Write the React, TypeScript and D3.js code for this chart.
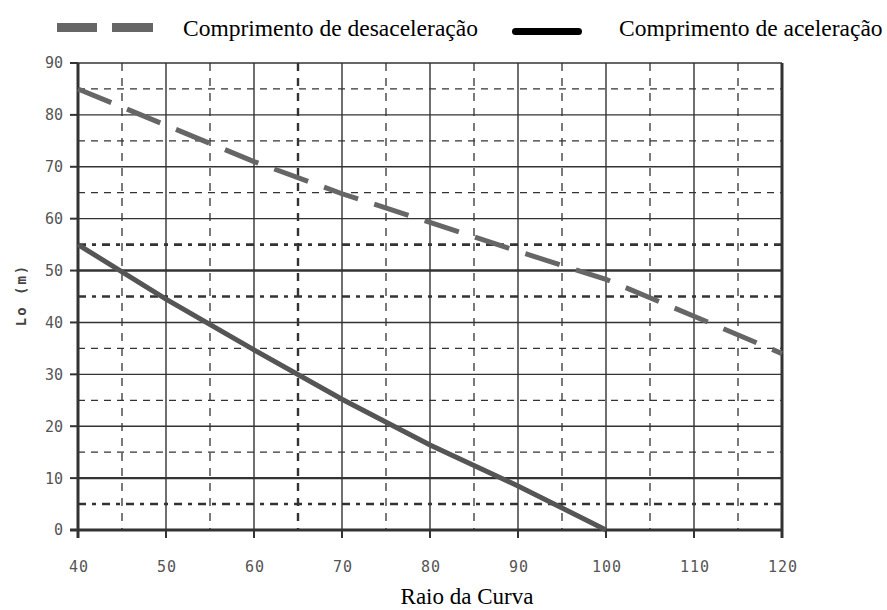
import * as d3 from "d3";

const raio = [40, 50, 60, 70, 80, 90, 100, 110, 120];
const desaceleracao = [85, 78, 71, 64.8, 59.3, 53.7, 48.3, 41.2, 34];
const raioAcel = [40, 50, 60, 70, 80, 90, 100];
const aceleracao = [55, 44.5, 34.7, 25.2, 16.4, 8.5, 0];

const xTicks = [40, 50, 60, 70, 80, 90, 100, 110, 120];
const yTicks = [0, 10, 20, 30, 40, 50, 60, 70, 80, 90];
const xMinor = [45, 55, 65, 75, 85, 95, 105, 115];
const yMinor = [5, 15, 25, 35, 45, 55, 65, 75, 85];
const boldYMinor = [5, 45, 55];
const boldXMinor = [65];
const boldYMajor = [10, 50];

const W = 887;
const H = 610;

export default function App() {
  const x = d3.scaleLinear().domain([40, 120]).range([78, 782]);
  const y = d3.scaleLinear().domain([0, 90]).range([530, 63]);

  const decel = raio.map((r, i) => [r, desaceleracao[i]] as [number, number]);
  const acel = raioAcel.map((r, i) => [r, aceleracao[i]] as [number, number]);
  const line = d3
    .line<[number, number]>()
    .x((d) => x(d[0]))
    .y((d) => y(d[1]));

  const grid = "#333";
  const tickFont = "'DejaVu Sans Mono', monospace";
  const serif = "'Liberation Serif', 'Times New Roman', serif";

  return (
    <svg width={W} height={H} style={{ position: "absolute", left: 0, top: 0 }}>
      <rect width={W} height={H} fill="#fff" />

      {/* legend */}
      <g>
        <rect x={57} y={23} width={40} height={9} fill="#666" />
        <rect x={112} y={23} width={41} height={9} fill="#666" />
        <text x={183} y={36} fontFamily={serif} fontSize={23.5} fill="#000">
          Comprimento de desaceleração
        </text>
        <rect x={512} y={28} width={70} height={7} rx={3.5} fill="#000" />
        <text x={619} y={36} fontFamily={serif} fontSize={23.5} fill="#000">
          Comprimento de aceleração
        </text>
      </g>

      {/* minor grid */}
      {xMinor.map((v) => (
        <line
          key={"xm" + v}
          x1={x(v)}
          x2={x(v)}
          y1={y(90)}
          y2={y(0)}
          stroke={grid}
          strokeWidth={boldXMinor.includes(v) ? 2.4 : 1.3}
          strokeDasharray="8,7"
        />
      ))}
      {yMinor.map((v) => (
        <line
          key={"ym" + v}
          x1={x(40)}
          x2={x(120)}
          y1={y(v)}
          y2={y(v)}
          stroke={grid}
          strokeWidth={boldYMinor.includes(v) ? 2.6 : 1.3}
          strokeDasharray={boldYMinor.includes(v) ? "8,6,4,6" : "7,6"}
        />
      ))}

      {/* major grid */}
      {xTicks.slice(1, -1).map((v) => (
        <line key={"xg" + v} x1={x(v)} x2={x(v)} y1={y(90)} y2={y(0)} stroke={grid} strokeWidth={1.4} />
      ))}
      {yTicks.slice(1).map((v) => (
        <line
          key={"yg" + v}
          x1={x(40)}
          x2={x(120)}
          y1={y(v)}
          y2={y(v)}
          stroke={grid}
          strokeWidth={boldYMajor.includes(v) ? 2.4 : 1.4}
        />
      ))}

      {/* frame */}
      <line x1={x(40)} x2={x(40)} y1={y(90)} y2={y(0) + 8} stroke={grid} strokeWidth={3} />
      <line x1={x(120)} x2={x(120)} y1={y(90)} y2={y(0) + 8} stroke={grid} strokeWidth={3} />
      <line x1={x(40) - 8} x2={x(120)} y1={y(0)} y2={y(0)} stroke={grid} strokeWidth={3} />

      {/* ticks */}
      {yTicks.map((v) => (
        <g key={"yt" + v}>
          <line x1={x(40) - 8} x2={x(40)} y1={y(v)} y2={y(v)} stroke={grid} strokeWidth={2} />
          <text
            x={63}
            y={y(v)}
            dy="0.36em"
            textAnchor="end"
            fontFamily={tickFont}
            fontSize={15}
            fill="#555"
          >
            {v}
          </text>
        </g>
      ))}
      {xTicks.map((v) => (
        <g key={"xt" + v}>
          <line x1={x(v)} x2={x(v)} y1={y(0)} y2={y(0) + 8} stroke={grid} strokeWidth={2} />
          <text
            x={x(v) + 1}
            y={567}
            dy="0.36em"
            textAnchor="middle"
            fontFamily={tickFont}
            fontSize={15}
            letterSpacing={1}
            fill="#555"
          >
            {v}
          </text>
        </g>
      ))}

      {/* series */}
      <path d={line(decel) ?? ""} fill="none" stroke="#666" strokeWidth={5} strokeDasharray="36,17" />
      <path d={line(acel) ?? ""} fill="none" stroke="#555" strokeWidth={5} />

      {/* axis titles */}
      <text
        transform="translate(26,295) rotate(-90)"
        textAnchor="middle"
        fontFamily={tickFont}
        fontSize={14}
        fontWeight="bold"
        letterSpacing={2}
        fill="#444"
      >
        Lo (m)
      </text>
      <text x={467} y={604} textAnchor="middle" fontFamily={serif} fontSize={23} fill="#000">
        Raio da Curva
      </text>
    </svg>
  );
}
